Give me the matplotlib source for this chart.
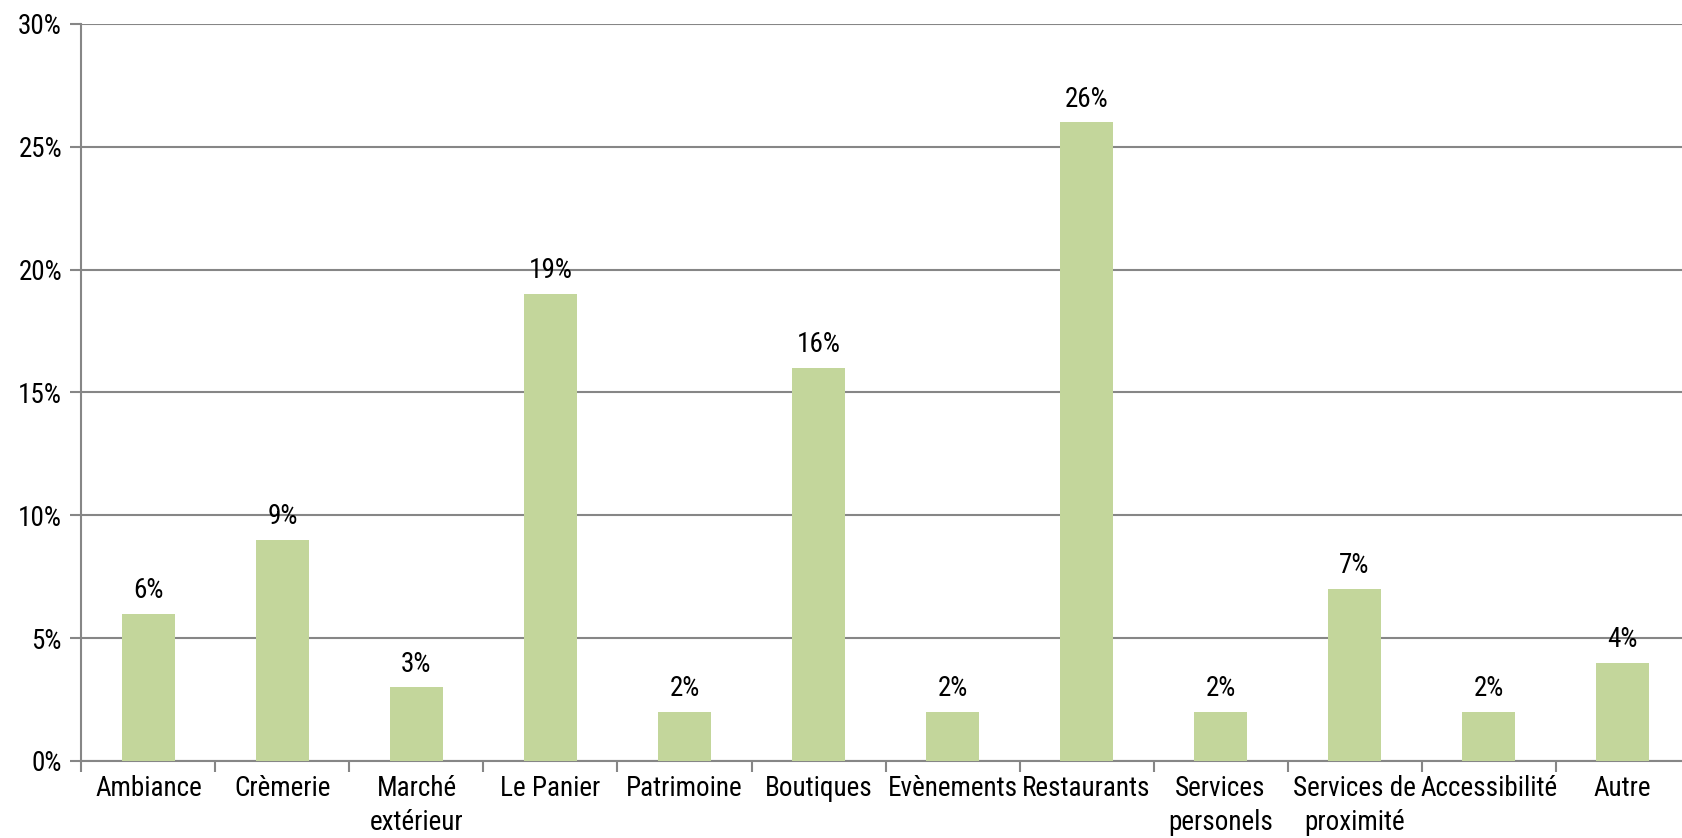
import numpy as np
import matplotlib
matplotlib.use('Agg')
import matplotlib.pyplot as plt
from matplotlib.ticker import FuncFormatter

plt.rcParams['font.family'] = ['Roboto Condensed', 'Liberation Sans', 'DejaVu Sans']

categories = ['Ambiance', 'Crèmerie', 'Marché\nextérieur', 'Le Panier', 'Patrimoine',
              'Boutiques', 'Evènements', 'Restaurants', 'Services\npersonels',
              'Services de\nproximité', 'Accessibilité', 'Autre']
values = [6, 9, 3, 19, 2, 16, 2, 26, 2, 7, 2, 4]
yticks = [0, 5, 10, 15, 20, 25, 30]

grid_col = '#868686'
bar_col = '#C3D69B'

fig = plt.figure(figsize=(16.83, 8.38), dpi=100)
ax = fig.add_axes([0.0484, 0.0919, 0.9555, 0.8795])

x = np.arange(len(categories))
ax.bar(x, values, width=0.4, color=bar_col, zorder=3)

for xi, v in zip(x, values):
    ax.annotate(f'{v}%', (xi, v), xytext=(0, 7), textcoords='offset points',
                ha='center', va='bottom', fontsize=19.5, zorder=4)

ax.set_xlim(-0.5, len(categories) - 0.5)
ax.set_ylim(0, 30)
ax.set_yticks(yticks)
ax.yaxis.set_major_formatter(FuncFormatter(lambda v, p: f'{v:.0f}%'))
ax.yaxis.grid(True, color=grid_col, linewidth=1.5, zorder=0)

ax.set_xticks(x)
ax.set_xticklabels(categories, linespacing=1.35)
ax.set_xticks(np.arange(len(categories) + 1) - 0.5, minor=True)
ax.tick_params(axis='x', which='major', length=0, pad=10, labelsize=19.5)
ax.tick_params(axis='x', which='minor', length=8, width=1.5, color=grid_col)
ax.tick_params(axis='y', length=8, width=1.5, color=grid_col, labelsize=19.5, pad=6)

for s in ['top', 'right']:
    ax.spines[s].set_visible(False)
for s in ['left', 'bottom']:
    ax.spines[s].set_color(grid_col)
    ax.spines[s].set_linewidth(1.5)

fig.savefig('out.png', dpi=100)
